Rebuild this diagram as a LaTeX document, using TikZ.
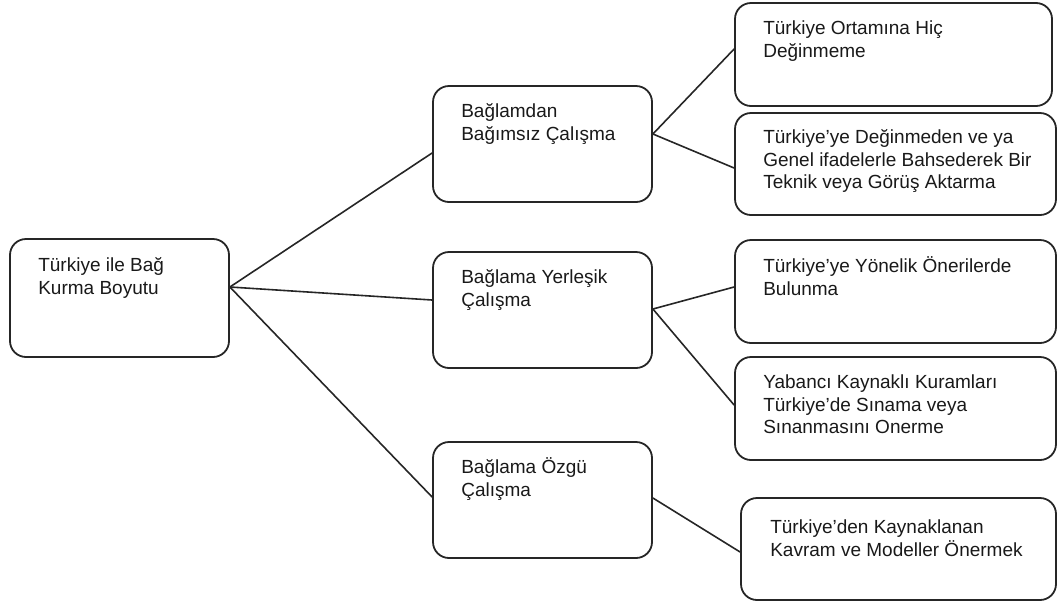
\documentclass[tikz,border=0pt]{standalone}
\usepackage{fontspec}
\setmainfont{Liberation Sans}
\begin{document}
\begin{tikzpicture}[x=1pt,y=-1pt,
  box/.style={draw=black!85, line width=1.8pt, rounded corners=16pt, rectangle, inner sep=0pt},
  txt/.style={anchor=north west, align=left, inner sep=0pt, text=black!90, font=\fontsize{19}{22.7}\selectfont},
  conn/.style={draw=black!85, line width=1.6pt}]
\useasboundingbox (0,0) rectangle (1058,606);
% boxes
\node[box, minimum width=219pt, minimum height=118pt] (root) at (119.5,298) {};
\node[box, minimum width=219pt, minimum height=116pt] (b1) at (542.5,144) {};
\node[box, minimum width=219pt, minimum height=116pt] (b2) at (542.5,310) {};
\node[box, minimum width=219pt, minimum height=116pt] (b3) at (542.5,500) {};
\node[box, minimum width=317pt, minimum height=103pt] (r1) at (893.5,54.5) {};
\node[box, minimum width=321pt, minimum height=102pt] (r2) at (895.5,164) {};
\node[box, minimum width=321pt, minimum height=103pt] (r3) at (895.5,291.5) {};
\node[box, minimum width=321pt, minimum height=103pt] (r4) at (895.5,408.5) {};
\node[box, minimum width=315pt, minimum height=102pt] (r5) at (898.5,549) {};
% texts
\node[txt] (troot) at ([shift={(29pt,-14pt)}]root.north west) {\rule{0pt}{19pt}Türkiye ile Bağ\\Kurma Boyutu};
\node[txt] (tb1) at ([shift={(29pt,-13pt)}]b1.north west) {\rule{0pt}{19pt}Bağlamdan\\Bağımsız Çalışma};
\node[txt] (tb2) at ([shift={(29pt,-13pt)}]b2.north west) {\rule{0pt}{19pt}Bağlama Yerleşik\\Çalışma};
\node[txt] (tb3) at ([shift={(29pt,-13pt)}]b3.north west) {\rule{0pt}{19pt}Bağlama Özgü\\Çalışma};
\node[txt] (tr1) at ([shift={(29pt,-13pt)}]r1.north west) {\rule{0pt}{19pt}Türkiye Ortamına Hiç\\Değinmeme};
\node[txt] (tr2) at ([shift={(29pt,-12pt)}]r2.north west) {\rule{0pt}{19pt}Türkiye’ye Değinmeden ve ya\\Genel ifadelerle Bahsederek Bir\\Teknik veya Görüş Aktarma};
\node[txt] (tr3) at ([shift={(29pt,-14.5pt)}]r3.north west) {\rule{0pt}{19pt}Türkiye’ye Yönelik Önerilerde\\Bulunma};
\node[txt] (tr4) at ([shift={(29pt,-13pt)}]r4.north west) {\rule{0pt}{19pt}Yabancı Kaynaklı Kuramları\\Türkiye’de Sınama veya\\Sınanmasını Onerme};
\node[txt] (tr5) at ([shift={(30pt,-17.5pt)}]r5.north west) {\rule{0pt}{19pt}Türkiye’den Kaynaklanan\\Kavram ve Modeller Önermek};
% connectors
\draw[conn] ([yshift=11pt]root.east) -- ([yshift=-9pt]b1.west);
\draw[conn] ([yshift=11pt]root.east) -- ([yshift=10pt]b2.west);
\draw[conn] ([yshift=11pt]root.east) -- ([yshift=3pt]b3.west);
\draw[conn] ([yshift=10pt]b1.east) -- ([yshift=5.5pt]r1.west);
\draw[conn] ([yshift=10pt]b1.east) -- ([yshift=-4pt]r2.west);
\draw[conn] ([yshift=1pt]b2.east) -- ([yshift=4.5pt]r3.west);
\draw[conn] ([yshift=1pt]b2.east) -- ([yshift=3.5pt]r4.west);
\draw[conn] ([yshift=2pt]b3.east) -- ([yshift=-3pt]r5.west);
\end{tikzpicture}
\end{document}
